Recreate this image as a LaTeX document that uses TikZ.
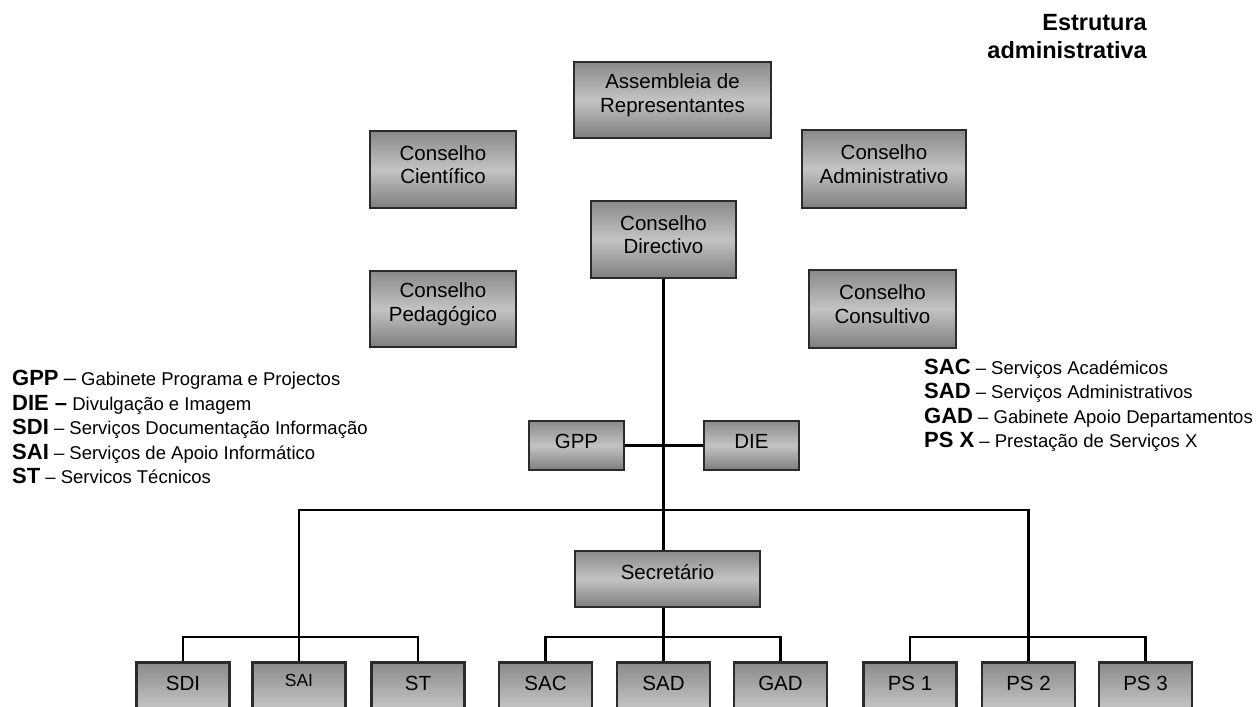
\documentclass[tikz,border=0pt]{standalone}
\usepackage{fontspec}
\setmainfont{Liberation Sans}
\usetikzlibrary{backgrounds}

\definecolor{boxedge}{HTML}{2B2B2B}
\definecolor{boxtop}{HTML}{8A8A8A}
\definecolor{boxmid}{HTML}{C3C3C3}
\definecolor{boxbot}{HTML}{7E7E7E}

% gray box with the label set a little above its middle
\newcommand\orgbox[7]{%
  \node[orgbox, minimum width=#4, minimum height=#5] (#1) at (#2,#3) {};
  \node[boxlabel] (#1-text) at ([yshift=#7]#1.center) {#6};}
% box of the lowest row, open at the foot of the page
\newcommand\unitbox[3]{%
  \node[orgbox, anchor=north, minimum width=93, minimum height=90] (#1) at (#2,661) {};
  \node[boxlabel] (#1-text) at (#2,683) {#3};}
\newcommand\abbr[1]{{\fontsize{22}{24}\selectfont\bfseries #1}}

\begin{document}
\begin{tikzpicture}[x=1pt,y=-1pt,
  orgbox/.style={rectangle, draw=boxedge, line width=2.5pt, inner sep=0pt,
    top color=boxtop, bottom color=boxbot, middle color=boxmid},
  boxlabel/.style={align=center, inner sep=0pt, text=black,
    font=\fontsize{20.5}{23.5}\selectfont},
  conn/.style={draw=black, line width=2.5pt},
  legend/.style={anchor=base west, inner sep=0pt, font=\fontsize{18.5}{20}\selectfont},
  heading/.style={anchor=base east, inner sep=0pt, font=\fontsize{23.5}{26}\selectfont\bfseries}]

\useasboundingbox (0,0) rectangle (1256,707);
\begin{pgfonlayer}{background}
  \fill[white] (0,0) rectangle (1256,707);
\end{pgfonlayer}
\clip (0,0) rectangle (1256,707);

% title
\node[heading] (title1) at (1147,30) {Estrutura};
\node[heading] (title2) at (1147,58) {administrativa};

% councils
\orgbox{asm}{672.5}{100}{197}{76}{Assembleia de\\Representantes}{5pt}
\orgbox{cci}{443}{169.5}{146}{77}{Conselho\\Científico}{5pt}
\orgbox{cadm}{884}{169}{164}{78}{Conselho\\Administrativo}{5pt}
\orgbox{cdir}{663.5}{239.5}{145}{77}{Conselho\\Directivo}{5pt}
\orgbox{cped}{443}{309}{146}{76}{Conselho\\Pedagógico}{5pt}
\orgbox{ccons}{882.5}{309}{147}{78}{Conselho\\Consultivo}{5pt}

% offices beside the main line
\orgbox{gpp}{576.5}{445.5}{95}{49}{GPP}{4pt}
\orgbox{die}{751.5}{445.5}{95}{49}{DIE}{4pt}

% secretary
\orgbox{sec}{667.5}{579}{185}{56}{Secretário}{7pt}

% services
\unitbox{sdi}{183}{SDI}
\node[orgbox, anchor=north, minimum width=93, minimum height=90] (sai) at (299,661) {};
\node[boxlabel, font=\fontsize{17.5}{19}\selectfont] (sai-text) at (299,680) {SAI};
\unitbox{st}{418}{ST}
\unitbox{sac}{545.5}{SAC}
\unitbox{sad}{663.5}{SAD}
\unitbox{gad}{780.5}{GAD}
\unitbox{ps1}{910}{PS 1}
\unitbox{ps2}{1028.5}{PS 2}
\unitbox{ps3}{1145.5}{PS 3}

% connectors
\begin{pgfonlayer}{background}
  \draw[conn] (cdir.south) -- (sad.north);
  \draw[conn] (gpp.east) -- (die.west);
  \draw[conn] (sai.north) |- (ps2.north |- 0,510) -- (ps2.north);
  \draw[conn] (sdi.north) |- (st.north |- 0,637) -- (st.north);
  \draw[conn] (sac.north) |- (gad.north |- 0,637) -- (gad.north);
  \draw[conn] (ps1.north) |- (ps3.north |- 0,637) -- (ps3.north);
\end{pgfonlayer}

% abbreviations, left
\node[legend] (lg1) at (12,385.5) {\abbr{GPP} {\fontsize{22}{24}\selectfont –} Gabinete Programa e Projectos};
\node[legend] (lg2) at (12,410) {\abbr{DIE –} Divulgação e Imagem};
\node[legend] (lg3) at (12,434.5) {\abbr{SDI} – Serviços Documentação Informação};
\node[legend] (lg4) at (12,459) {\abbr{SAI} – Serviços de Apoio Informático};
\node[legend] (lg5) at (12,483.5) {\abbr{ST} – Servicos Técnicos};

% abbreviations, right
\node[legend] (lr1) at (924,374) {\abbr{SAC} – Serviços Académicos};
\node[legend] (lr2) at (924,398.5) {\abbr{SAD} – Serviços Administrativos};
\node[legend] (lr3) at (924,423) {\abbr{GAD} – Gabinete Apoio Departamentos};
\node[legend] (lr4) at (924,447.5) {\abbr{PS X} – Prestação de Serviços X};
\end{tikzpicture}
\end{document}
